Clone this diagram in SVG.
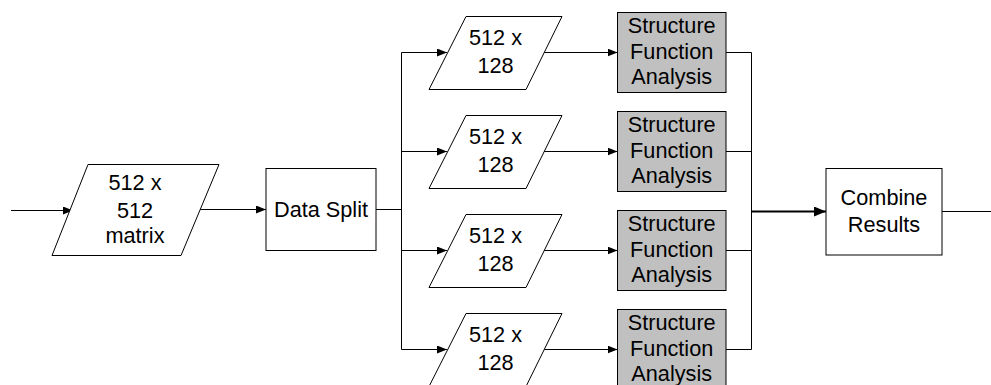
<svg xmlns="http://www.w3.org/2000/svg" width="991" height="385" viewBox="0 0 991 385">
<style>
.shape{fill:#ffffff;stroke:#000000;stroke-width:1}
.sfa{fill:#c0c0c0;stroke:#000000;stroke-width:1}
.t{font-family:"Liberation Sans",Arial,sans-serif;font-size:21.7px;fill:#000000;text-anchor:middle}
.c{fill:none;stroke:#000000;stroke-width:1}
.cb{fill:none;stroke:#000000;stroke-width:2}
</style>
<defs>
<marker id="ah" viewBox="0 0 10 8" refX="10" refY="4" markerWidth="10" markerHeight="8" markerUnits="userSpaceOnUse" orient="auto">
<path d="M0,0 L10,4 L0,8 Z" fill="#000000"/>
</marker>
<marker id="ahb" viewBox="0 0 12 10" refX="12" refY="5" markerWidth="12" markerHeight="10" markerUnits="userSpaceOnUse" orient="auto">
<path d="M0,0 L12,5 L0,10 Z" fill="#000000"/>
</marker>
</defs>
<g id="connectors">
<path class="c" d="M11,210.5 H73" marker-end="url(#ah)"/>
<path class="c" d="M200,209.5 H266" marker-end="url(#ah)"/>
<path class="c" d="M376,209.5 H401.5"/>
<path class="c" d="M401.5,52.5 V349.5"/>
<path class="c" d="M401.5,52.5 H447" marker-end="url(#ah)"/>
<path class="c" d="M401.5,151.5 H447" marker-end="url(#ah)"/>
<path class="c" d="M401.5,250.5 H447" marker-end="url(#ah)"/>
<path class="c" d="M401.5,349.5 H447" marker-end="url(#ah)"/>
<path class="c" d="M544,52.5 H617.5" marker-end="url(#ah)"/>
<path class="c" d="M544,151.5 H617.5" marker-end="url(#ah)"/>
<path class="c" d="M544,250.5 H617.5" marker-end="url(#ah)"/>
<path class="c" d="M544,349.5 H617.5" marker-end="url(#ah)"/>
<path class="c" d="M726,52.5 H751.5 V349.5 H726"/>
<path class="c" d="M726,151.5 H751.5"/>
<path class="c" d="M726,250.5 H751.5"/>
<path class="cb" d="M751,211.5 H826" marker-end="url(#ahb)"/>
<path class="c" d="M942,211.5 H991"/>
</g>
<g id="input">
<polygon class="shape" points="88,164.5 219,164.5 181,255.5 52,255.5"/>
<text class="t" x="135" y="190">512 x</text>
<text class="t" x="135" y="218">512</text>
<text class="t" x="135" y="243">matrix</text>
</g>
<g id="data-split">
<rect class="shape" x="266" y="168.5" width="110" height="82"/>
<text class="t" x="321" y="217">Data Split</text>
</g>
<g id="part1">
<polygon class="shape" points="466,16.5 562,16.5 526,89.5 429,89.5"/>
<text class="t" x="495.5" y="45">512 x</text>
<text class="t" x="495.5" y="73">128</text>
</g>
<g id="part2">
<polygon class="shape" points="466,115.5 562,115.5 526,188.5 429,188.5"/>
<text class="t" x="495.5" y="144">512 x</text>
<text class="t" x="495.5" y="172">128</text>
</g>
<g id="part3">
<polygon class="shape" points="466,214.5 562,214.5 526,287.5 429,287.5"/>
<text class="t" x="495.5" y="243">512 x</text>
<text class="t" x="495.5" y="271">128</text>
</g>
<g id="part4">
<polygon class="shape" points="466,313.5 562,313.5 526,386.5 429,386.5"/>
<text class="t" x="495.5" y="342">512 x</text>
<text class="t" x="495.5" y="370">128</text>
</g>
<g id="sfa1">
<rect class="sfa" x="617.5" y="12.5" width="108.5" height="80"/>
<text class="t" x="671.7" y="33.3">Structure</text>
<text class="t" x="671.7" y="58.5">Function</text>
<text class="t" x="671.7" y="84">Analysis</text>
</g>
<g id="sfa2">
<rect class="sfa" x="617.5" y="111.5" width="108.5" height="80"/>
<text class="t" x="671.7" y="132.3">Structure</text>
<text class="t" x="671.7" y="157.5">Function</text>
<text class="t" x="671.7" y="183">Analysis</text>
</g>
<g id="sfa3">
<rect class="sfa" x="617.5" y="210.5" width="108.5" height="80"/>
<text class="t" x="671.7" y="231.3">Structure</text>
<text class="t" x="671.7" y="256.5">Function</text>
<text class="t" x="671.7" y="282">Analysis</text>
</g>
<g id="sfa4">
<rect class="sfa" x="617.5" y="309.5" width="108.5" height="80"/>
<text class="t" x="671.7" y="330.3">Structure</text>
<text class="t" x="671.7" y="355.5">Function</text>
<text class="t" x="671.7" y="381">Analysis</text>
</g>
<g id="combine">
<rect class="shape" x="826" y="168.5" width="116" height="86.5"/>
<text class="t" x="884" y="205">Combine</text>
<text class="t" x="884" y="231.5">Results</text>
</g>
</svg>
